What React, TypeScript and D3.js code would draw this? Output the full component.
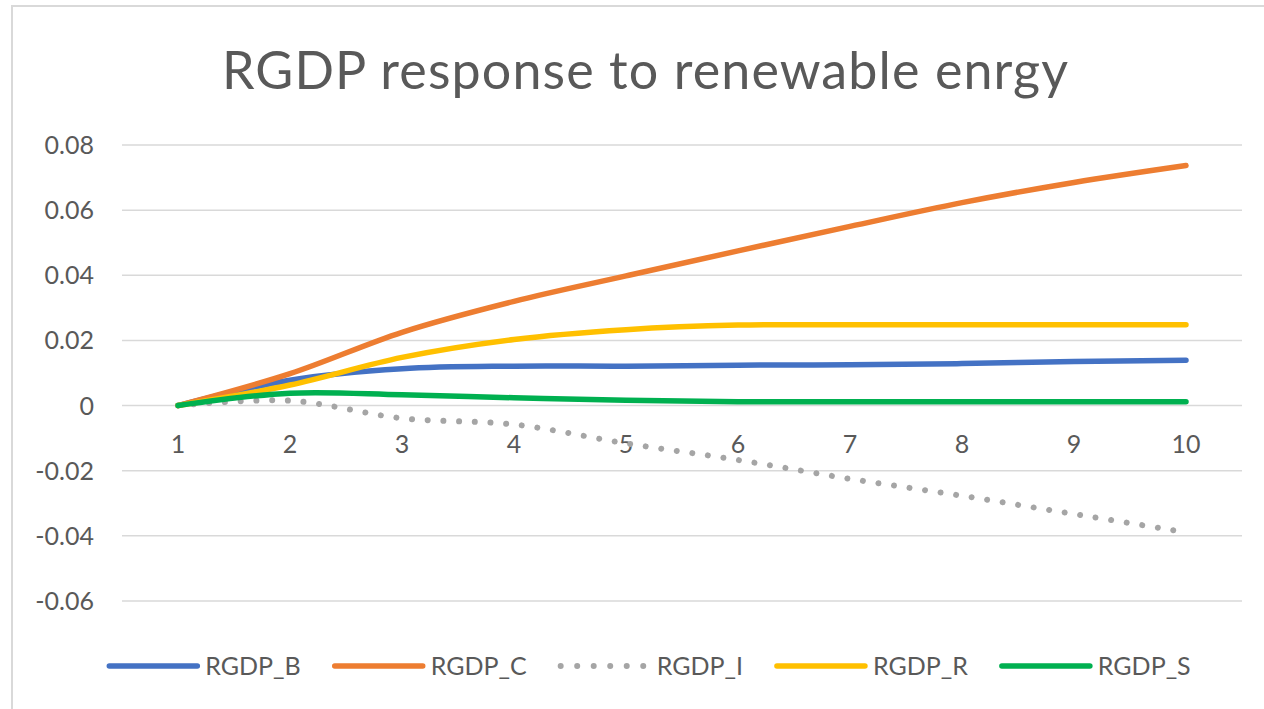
import React, { useEffect, useRef } from "react";
import * as d3 from "d3";

// Periods after the shock
const periods = [1, 2, 3, 4, 5, 6, 7, 8, 9, 10];

// Impulse responses of RGDP by series
const rgdpB = [0, 0.0078, 0.0113, 0.0121, 0.0121, 0.0124, 0.0125, 0.0129, 0.0135, 0.0139];
const rgdpC = [0, 0.0098, 0.0225, 0.032, 0.0398, 0.0475, 0.055, 0.0623, 0.0685, 0.0737];
const rgdpI = [0, 0.0015, -0.0039, -0.0058, -0.0116, -0.0167, -0.0225, -0.0277, -0.0333, -0.0389];
const rgdpR = [0, 0.0063, 0.0148, 0.0203, 0.0233, 0.0247, 0.0248, 0.0248, 0.0248, 0.0248];
const rgdpS = [0, 0.0038, 0.0033, 0.0024, 0.0016, 0.0012, 0.0012, 0.0012, 0.0012, 0.0012];

const seriesNames = ["RGDP_B", "RGDP_C", "RGDP_I", "RGDP_R", "RGDP_S"];
const seriesValues = [rgdpB, rgdpC, rgdpI, rgdpR, rgdpS];
const seriesColors = ["#4472C4", "#ED7D31", "#A5A5A5", "#FFC000", "#00B050"];
const seriesDotted = [false, false, true, false, false];

const yTicks = [-0.06, -0.04, -0.02, 0, 0.02, 0.04, 0.06, 0.08];

const titleText = "RGDP response to renewable enrgy";

const W = 1264;
const H = 709;
const FONT = "Lato, 'Open Sans', sans-serif";
const TEXT = "#595959";

export default function App() {
  const ref = useRef<SVGSVGElement | null>(null);

  useEffect(() => {
    const svg = d3.select(ref.current);
    svg.selectAll("*").remove();

    const plot = { left: 122, right: 1242, top: 145, bottom: 601 };

    const x = d3
      .scaleBand<number>()
      .domain(periods)
      .range([plot.left, plot.right]);
    const xc = (p: number) => (x(p) as number) + x.bandwidth() / 2;
    const y = d3.scaleLinear().domain([-0.06, 0.08]).range([plot.bottom, plot.top]);

    // chart frame (left and top edges visible)
    svg
      .append("path")
      .attr("d", `M12,${H} L12,6 L${W},6`)
      .attr("fill", "none")
      .attr("stroke", "#D9D9D9")
      .attr("stroke-width", 2);

    // title
    svg
      .append("text")
      .attr("x", 645)
      .attr("y", 89)
      .attr("text-anchor", "middle")
      .attr("font-family", FONT)
      .attr("font-size", 52)
      .attr("textLength", 846)
      .attr("lengthAdjust", "spacing")
      .attr("fill", TEXT)
      .text(titleText);

    // gridlines
    svg
      .append("g")
      .selectAll("line")
      .data(yTicks)
      .join("line")
      .attr("x1", plot.left)
      .attr("x2", plot.right)
      .attr("y1", (d) => y(d))
      .attr("y2", (d) => y(d))
      .attr("stroke", "#D9D9D9")
      .attr("stroke-width", 1.5);

    // y tick labels
    svg
      .append("g")
      .selectAll("text")
      .data(yTicks)
      .join("text")
      .attr("x", 94)
      .attr("y", (d) => y(d))
      .attr("dy", "0.36em")
      .attr("text-anchor", "end")
      .attr("font-family", FONT)
      .attr("font-size", 25)
      .attr("fill", TEXT)
      .text((d) => (d === 0 ? "0" : d.toFixed(2)));

    // x tick labels next to the zero line
    svg
      .append("g")
      .selectAll("text")
      .data(periods)
      .join("text")
      .attr("x", (d) => xc(d))
      .attr("y", y(0) + 38)
      .attr("dy", "0.36em")
      .attr("text-anchor", "middle")
      .attr("font-family", FONT)
      .attr("font-size", 25)
      .attr("fill", TEXT)
      .text((d) => String(d));

    // series lines
    const line = d3
      .line<number>()
      .x((_, i) => xc(periods[i]))
      .y((d) => y(d))
      .curve(d3.curveCardinal.tension(0));

    const lines = svg.append("g");
    seriesValues.forEach((vals, i) => {
      const p = lines
        .append("path")
        .attr("d", line(vals) as string)
        .attr("fill", "none")
        .attr("stroke", seriesColors[i])
        .attr("stroke-width", seriesDotted[i] ? 6 : 5.5)
        .attr("stroke-linecap", "round")
        .attr("stroke-linejoin", "round");
      if (seriesDotted[i]) p.attr("stroke-dasharray", "0.01 15.7");
    });

    // legend
    const legendY = 666;
    const sampleLen = 88;
    const gapText = 8;
    const gapItem = 34;
    const lg = svg.append("g");
    const items = seriesNames.map((name, i) => {
      const g = lg.append("g");
      const seg = g
        .append("line")
        .attr("x1", 0)
        .attr("x2", sampleLen)
        .attr("y1", legendY)
        .attr("y2", legendY)
        .attr("stroke", seriesColors[i])
        .attr("stroke-width", seriesDotted[i] ? 6 : 5.5)
        .attr("stroke-linecap", "round");
      if (seriesDotted[i]) seg.attr("stroke-dasharray", "0.01 16.5");
      const t = g
        .append("text")
        .attr("x", sampleLen + gapText)
        .attr("y", legendY)
        .attr("dy", "0.36em")
        .attr("font-family", FONT)
        .attr("font-size", 25)
        .attr("fill", TEXT)
        .text(name);
      const w = (t.node() as SVGTextElement).getComputedTextLength();
      return { g, width: sampleLen + gapText + w };
    });
    const total =
      d3.sum(items, (d) => d.width) + gapItem * (items.length - 1);
    let cx = 650 - total / 2;
    items.forEach((it) => {
      it.g.attr("transform", `translate(${cx},0)`);
      cx += it.width + gapItem;
    });
  }, []);

  return (
    <svg
      ref={ref}
      width={W}
      height={H}
      style={{ position: "absolute", left: 0, top: 0, background: "#fff" }}
    />
  );
}
